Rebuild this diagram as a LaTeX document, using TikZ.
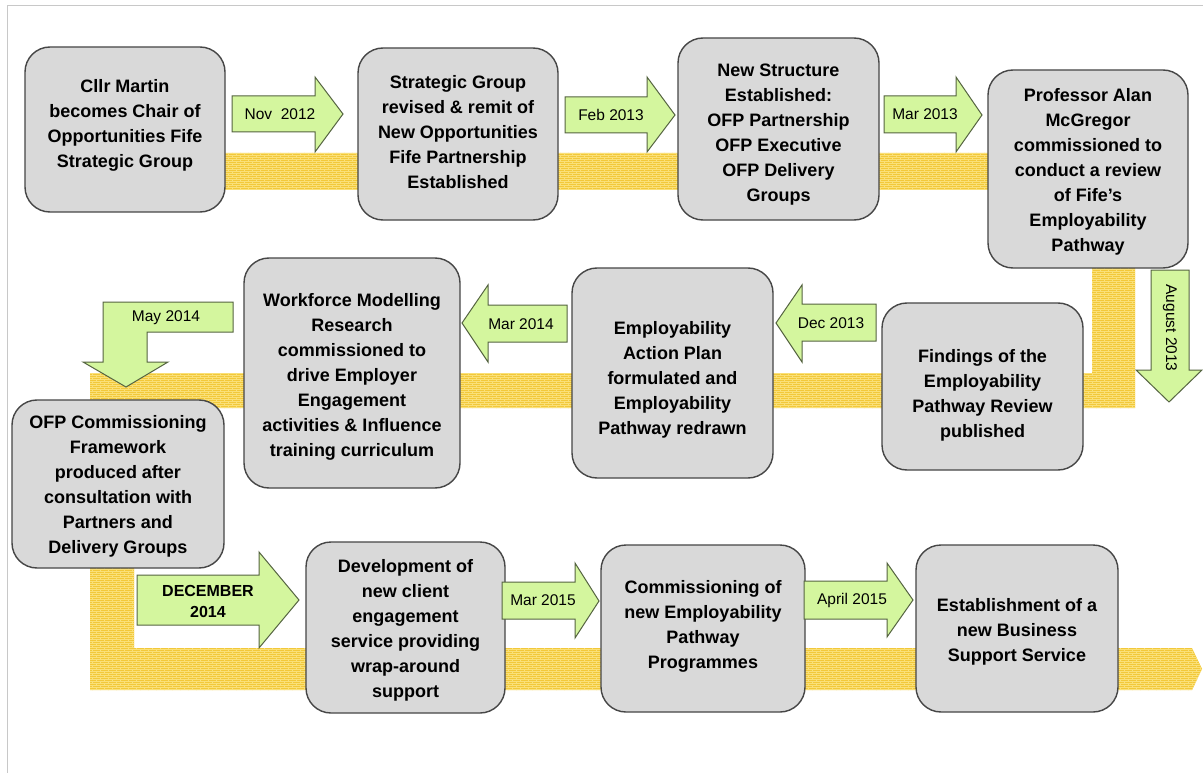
\documentclass[tikz,border=0pt]{standalone}
\usepackage{fontspec}
\setmainfont{Liberation Sans}
\usetikzlibrary{patterns}
\pgfdeclarepatternformonly{smallbricks}{\pgfpoint{-0.5pt}{-0.5pt}}{\pgfpoint{8.5pt}{4.5pt}}{\pgfpoint{8pt}{4pt}}{
  \pgfsetlinewidth{0.6pt}
  \pgfpathmoveto{\pgfpoint{0pt}{0pt}}\pgfpathlineto{\pgfpoint{8pt}{0pt}}
  \pgfpathmoveto{\pgfpoint{0pt}{2pt}}\pgfpathlineto{\pgfpoint{8pt}{2pt}}
  \pgfpathmoveto{\pgfpoint{0pt}{0pt}}\pgfpathlineto{\pgfpoint{0pt}{2pt}}
  \pgfpathmoveto{\pgfpoint{4pt}{2pt}}\pgfpathlineto{\pgfpoint{4pt}{4pt}}
  \pgfusepath{stroke}}
\definecolor{boxfill}{RGB}{217,217,217}
\definecolor{boxline}{RGB}{70,70,70}
\definecolor{arrfill}{RGB}{212,246,158}
\definecolor{arrline}{RGB}{85,100,65}
\definecolor{bandcol}{RGB}{242,200,58}
\definecolor{bandpat}{RGB}{250,224,120}
\definecolor{framecol}{RGB}{200,200,200}
\tikzset{
  box/.style={draw=boxline, fill=boxfill, line width=1.4pt, rounded corners=25pt, inner sep=0pt},
  boxtext/.style={align=center, font=\bfseries\fontsize{18}{25}\selectfont, inner sep=0pt},
  arr/.style={draw=arrline, fill=arrfill, line width=1pt, line join=miter},
  arrtext/.style={font=\fontsize{15.5}{19}\selectfont, align=center, inner sep=0pt},
  band/.style={fill=bandcol, postaction={pattern=smallbricks, pattern color=bandpat}}
}
\begin{document}
\begin{tikzpicture}[x=1pt,y=-1pt]
\useasboundingbox (0,0) rectangle (1203,773);
\fill[white] (0,0) rectangle (1203,773);
\draw[framecol, line width=1pt] (7,773) -- (7,6) -- (1203,6);

% yellow band
\path[band] (200,153) -- (1135,153) -- (1135,408) -- (134,408) -- (134,648)
  -- (1192,648) -- (1202,669) -- (1192,690) -- (90,690) -- (90,373)
  -- (1092,373) -- (1092,190) -- (200,190) -- cycle;

% boxes
\node[box, minimum width=200pt, minimum height=165pt] (b1) at (125,129.5) {};
\node[boxtext] (t1) at (125,125)
  {Cllr Martin\\becomes Chair of\\Opportunities Fife\\Strategic Group};
\node[box, minimum width=200pt, minimum height=172pt] (b2) at (458,134) {};
\node[boxtext] (t2) at (458,132.5)
  {Strategic Group\\revised \& remit of\\New Opportunities\\Fife Partnership\\Established};
\node[box, minimum width=201pt, minimum height=182pt] (b3) at (778.5,129) {};
\node[boxtext] (t3) at (778.5,134.5)
  {New Structure\\Established:\\OFP Partnership\\OFP Executive\\OFP Delivery\\Groups};
\node[box, minimum width=200pt, minimum height=198pt] (b4) at (1088,169) {};
\node[boxtext] (t4) at (1088,172)
  {Professor Alan\\McGregor\\commissioned to\\conduct a review\\of Fife's\\Employability\\Pathway};
\node[box, minimum width=201pt, minimum height=167pt] (b5) at (982.5,386.5) {};
\node[boxtext] (t5) at (982.5,395.5)
  {Findings of the\\Employability\\Pathway Review\\published};
\node[box, minimum width=201pt, minimum height=210pt] (b6) at (672.5,373) {};
\node[boxtext] (t6) at (672.5,380)
  {Employability\\Action Plan\\formulated and\\Employability\\Pathway redrawn};
\node[box, minimum width=216pt, minimum height=230pt] (b7) at (352,373) {};
\node[boxtext] (t7) at (352,377)
  {Workforce Modelling\\Research\\commissioned to\\drive Employer\\Engagement\\activities \& Influence\\training curriculum};
\node[box, minimum width=212pt, minimum height=168pt] (b8) at (118,484) {};
\node[boxtext] (t8) at (118,486)
  {OFP Commissioning\\Framework\\produced after\\consultation with\\Partners and\\Delivery Groups};
\node[box, minimum width=199pt, minimum height=171pt] (b9) at (405.5,627.5) {};
\node[boxtext] (t9) at (405.5,630.5)
  {Development of\\new client\\engagement\\service providing\\wrap-around\\support};
\node[box, minimum width=204pt, minimum height=167pt] (b10) at (703,628.5) {};
\node[boxtext] (t10) at (703,626.5)
  {Commissioning of\\new Employability\\Pathway\\Programmes};
\node[box, minimum width=202pt, minimum height=167pt] (b11) at (1017,628.5) {};
\node[boxtext] (t11) at (1017,632)
  {Establishment of a\\new Business\\Support Service};

% arrows
\path[arr] (232,96) -- (315,96) -- (315,77) -- (343,114) -- (315,152) -- (315,132) -- (232,132) -- cycle;
\node[arrtext] (a1) at (280,114) {Nov\ \ 2012};
\path[arr] (565,97) -- (647,97) -- (647,77) -- (675,115) -- (647,152) -- (647,133) -- (565,133) -- cycle;
\node[arrtext] (a2) at (611,115) {Feb 2013};
\path[arr] (884,96) -- (956,96) -- (956,77) -- (982,115) -- (956,152) -- (956,133) -- (884,133) -- cycle;
\node[arrtext] (a3) at (925,114) {Mar 2013};
\path[arr] (1151,270) -- (1189,270) -- (1189,370) -- (1202,370) -- (1169,402) -- (1136,370) -- (1151,370) -- cycle;
\node[arrtext, rotate=-90] (a4) at (1170,328) {August 2013};
\path[arr] (876,304) -- (802,304) -- (802,285) -- (776,323) -- (802,362) -- (802,341) -- (876,341) -- cycle;
\node[arrtext] (a5) at (831,323) {Dec 2013};
\path[arr] (567,305) -- (488,305) -- (488,285) -- (462,323) -- (488,362) -- (488,342) -- (567,342) -- cycle;
\node[arrtext] (a6) at (521,324) {Mar 2014};
\path[arr] (103,302) -- (233,302) -- (233,332) -- (147,332) -- (147,362) -- (168,362) -- (126,387) -- (83,362) -- (103,362) -- cycle;
\node[arrtext] (a7) at (166,318) {May 2014};
\path[arr] (137,575) -- (259,575) -- (259,552) -- (299,600) -- (259,648) -- (259,625) -- (137,625) -- cycle;
\node[arrtext, font=\bfseries\fontsize{16}{21}\selectfont] (a8) at (208,601) {DECEMBER\\2014};
\path[arr] (502,582) -- (575,582) -- (575,563) -- (599,601) -- (575,638) -- (575,619) -- (502,619) -- cycle;
\node[arrtext] (a9) at (543,600) {Mar 2015};
\path[arr] (804,581) -- (887,581) -- (887,563) -- (913,600) -- (887,637) -- (887,619) -- (804,619) -- cycle;
\node[arrtext] (a10) at (852,600) {April 2015};
\end{tikzpicture}
\end{document}
